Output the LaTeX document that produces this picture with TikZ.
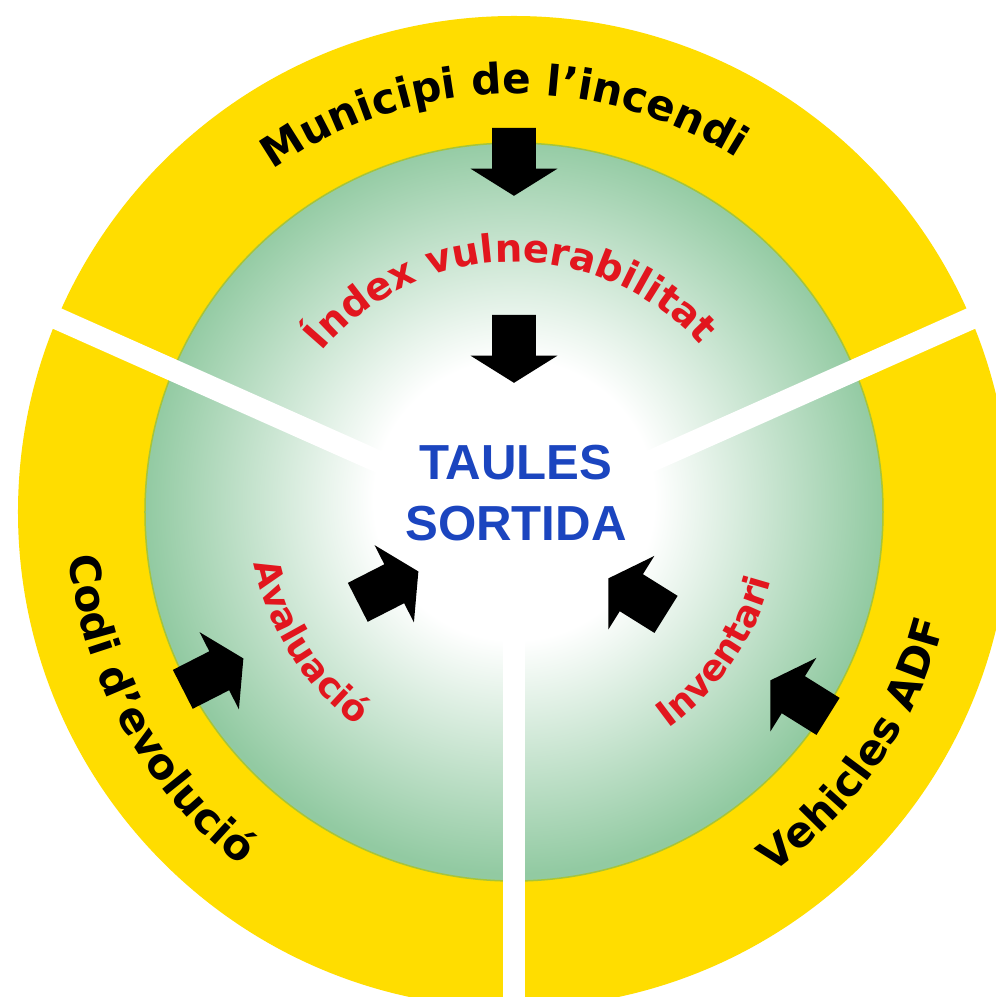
\documentclass[tikz,border=0pt]{standalone}
\usepackage{fontspec}
\usepackage{tikz}
\usetikzlibrary{decorations.text,shapes.arrows}
\newfontfamily\ringfont{DejaVu Sans}
\newfontfamily\corefont{Liberation Sans}
\definecolor{ringyellow}{HTML}{FFDD00}
\definecolor{discgreen}{HTML}{92CAA2}
\definecolor{rimgreen}{HTML}{A6C43A}
\definecolor{labelred}{HTML}{E2161E}
\definecolor{coreblue}{HTML}{1B45BF}
\pgfdeclareradialshading{discglow}{\pgfpoint{0bp}{1bp}}{color(0bp)=(white); color(9.5bp)=(white); color(25bp)=(discgreen); color(50bp)=(discgreen)}
\tikzset{
  blockarrow/.style={single arrow, fill=black, draw=none,
    inner xsep=0pt, inner ysep=0.43cm,
    minimum height=1.36cm, minimum width=1.72cm,
    single arrow head extend=0.43cm, single arrow tip angle=116},
  spoke/.style={draw=white, line width=0.44cm},
  outertext/.style={decorate, decoration={text along path, text align=center,
    text={|\ringfont\bfseries\fontsize{24}{24}\selectfont|#1}}},
  innertext/.style 2 args={decorate, decoration={text along path, text align=center,
    text={|\ringfont\bfseries\fontsize{#1}{#1}\selectfont\color{labelred}|#2}}},
  corelabel/.style={font=\corefont\bfseries\fontsize{28}{35}\selectfont,
    text=coreblue, align=center, inner sep=0pt}
}

\begin{document}
\begin{tikzpicture}[x=0.02cm, y=0.02cm]
    \useasboundingbox (-514,-485) rectangle (482,512);
    \clip (-514,-485) rectangle (482,512);
    \fill[white] (-514,-485) rectangle (482,512);
    \coordinate (hub) at (0,-10);

    % rings
    \fill[ringyellow] (0,0) circle[radius=496];
    \shadedraw[shading=discglow, draw=rimgreen, line width=0.03cm] (0,0) circle[radius=369];
    \foreach \ang in {156,24,270}
        \draw[spoke] (hub) -- ++(\ang:600);

    % centre
    \node[corelabel] (core) at (2,19) {TAULES\\SORTIDA};

    % arrows
    \node[blockarrow, rotate=-90] (topout) at (0,357) {};
    \node[blockarrow, rotate=-90] (topin) at (0,170) {};
    \node[blockarrow, rotate=27] (leftout) at (-307,-165) {};
    \node[blockarrow, rotate=27] (leftin) at (-132,-78) {};
    \node[blockarrow, rotate=148] (rightin) at (129,-88) {};
    \node[blockarrow, rotate=148] (rightout) at (291,-190) {};

    % ring labels
    \path[outertext={Municipi de l’incendi}] (151.5:418) arc[start angle=151.5, end angle=31.5, radius=418];
    \path[outertext={Codi d’evolució}] (169:447) arc[start angle=169, end angle=249, radius=447];
    \path[outertext={Vehicles ADF}] (-74.5:444) arc[start angle=-74.5, end angle=5.5, radius=444];
    \path[innertext={22}{Índex vulnerabilitat}] (146:250) arc[start angle=146, end angle=36, radius=250];
    \path[innertext={20.5}{Avaluació}] (172.5:265) arc[start angle=172.5, end angle=252.5, radius=265];
    \path[innertext={20.5}{Inventari}] (-74.7:266) arc[start angle=-74.7, end angle=5.3, radius=266];
\end{tikzpicture}
\end{document}
